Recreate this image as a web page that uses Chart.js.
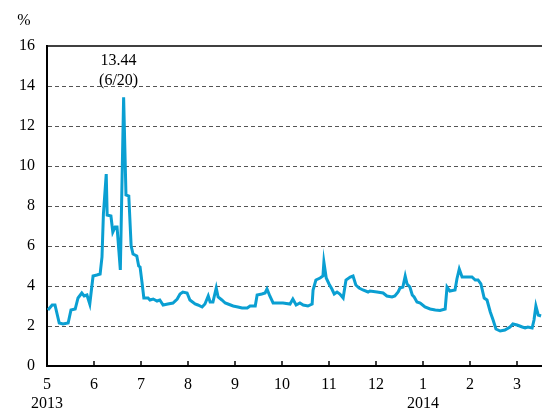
<!DOCTYPE html>
<html>
<head>
<meta charset="utf-8">
<script src="https://cdn.jsdelivr.net/npm/chart.js@4"></script>
<style>
  html, body { margin: 0; padding: 0; background: #fff; }
  #wrap { width: 542px; height: 410px; }
</style>
</head>
<body>
<div id="wrap"><canvas id="rateChart" width="542" height="410"></canvas></div>
<script>
// months elapsed since 1 May 2013 (0 = May, 10 = March 2014)
const monthPos = [
  0.02, 0.11, 0.17, 0.26, 0.34, 0.45, 0.51, 0.60, 0.66, 0.74, 0.79, 0.85, 0.91, 0.98,
  1.06, 1.13, 1.17, 1.20, 1.26, 1.28, 1.36, 1.40, 1.45, 1.49, 1.56, 1.63, 1.68, 1.74,
  1.79, 1.83, 1.91, 1.95, 1.98, 2.02, 2.06, 2.09, 2.15, 2.19, 2.26, 2.34, 2.40, 2.47,
  2.57, 2.68, 2.77, 2.83, 2.89, 2.98, 3.04, 3.15, 3.21, 3.30, 3.36, 3.43, 3.47, 3.53,
  3.60, 3.64, 3.72, 3.79, 3.85, 3.96, 4.06, 4.15, 4.26, 4.32, 4.43, 4.47, 4.57, 4.64,
  4.68, 4.74, 4.81, 4.89, 5.02, 5.17, 5.23, 5.30, 5.38, 5.45, 5.55, 5.64, 5.66, 5.72,
  5.81, 5.87, 5.89, 5.94, 6.00, 6.06, 6.11, 6.17, 6.23, 6.30, 6.36, 6.45, 6.51, 6.57,
  6.64, 6.72, 6.83, 6.87, 7.02, 7.15, 7.23, 7.34, 7.40, 7.47, 7.51, 7.57, 7.62, 7.66,
  7.72, 7.77, 7.81, 7.87, 7.94, 8.04, 8.15, 8.26, 8.36, 8.47, 8.51, 8.57, 8.68, 8.72,
  8.77, 8.83, 8.94, 9.04, 9.11, 9.17, 9.23, 9.30, 9.36, 9.43, 9.49, 9.55, 9.64, 9.74,
  9.85, 9.91, 10.00, 10.11, 10.17, 10.23, 10.32, 10.36, 10.40, 10.45, 10.51
];

// call rate, %
const rates = [
  2.80, 3.05, 3.05, 2.15, 2.10, 2.15, 2.80, 2.85, 3.40, 3.65, 3.50, 3.55, 3.10, 4.50,
  4.55, 4.60, 5.45, 7.60, 9.60, 7.55, 7.50, 6.70, 6.95, 6.95, 4.80, 13.44, 8.55, 8.50,
  6.00, 5.60, 5.50, 5.00, 4.95, 4.20, 3.40, 3.40, 3.40, 3.30, 3.35, 3.25, 3.30, 3.05,
  3.10, 3.15, 3.35, 3.60, 3.70, 3.65, 3.30, 3.10, 3.05, 2.95, 3.10, 3.50, 3.20, 3.20,
  3.90, 3.45, 3.30, 3.15, 3.10, 3.00, 2.95, 2.90, 2.90, 3.00, 3.00, 3.55, 3.60, 3.65,
  3.85, 3.50, 3.15, 3.15, 3.15, 3.10, 3.35, 3.05, 3.15, 3.05, 3.00, 3.10, 3.80, 4.30,
  4.40, 4.50, 5.20, 4.40, 4.10, 3.85, 3.60, 3.70, 3.60, 3.40, 4.30, 4.45, 4.50, 4.05,
  3.90, 3.80, 3.70, 3.75, 3.70, 3.65, 3.50, 3.45, 3.50, 3.70, 3.90, 3.95, 4.50, 4.10,
  3.95, 3.55, 3.45, 3.20, 3.15, 2.95, 2.85, 2.80, 2.78, 2.85, 3.95, 3.75, 3.80, 4.35,
  4.85, 4.45, 4.45, 4.45, 4.30, 4.30, 4.10, 3.40, 3.30, 2.70, 2.30, 1.85, 1.75, 1.80,
  1.95, 2.10, 2.05, 1.95, 1.90, 1.95, 1.90, 2.30, 3.00, 2.55, 2.50
];

const monthLabels = ['5', '6', '7', '8', '9', '10', '11', '12', '1', '2', '3'];
const yearLabels = { 0: '2013', 8: '2014' };
const yTicks = [0, 2, 4, 6, 8, 10, 12, 14, 16];

const peakValue = 13.44;
const peakDate = '6/20';

const FONT = 'Liberation Serif, Times New Roman, serif';

const peakIdx = rates.indexOf(peakValue);

// solid frame line at the top plus inward month ticks and the text notes
const extras = {
  id: 'extras',
  afterDraw(chart) {
    const { ctx, chartArea, scales } = chart;
    const x = scales.x, y = scales.y;
    ctx.save();
    ctx.strokeStyle = '#000';
    ctx.lineWidth = 1.5;
    ctx.beginPath();
    ctx.moveTo(chartArea.left, y.getPixelForValue(16));
    ctx.lineTo(chartArea.right, y.getPixelForValue(16));
    ctx.stroke();

    ctx.lineWidth = 1.5;
    monthLabels.forEach((m, i) => {
      const px = Math.round(x.getPixelForValue(i));
      if (i === 0) return;
      ctx.beginPath();
      ctx.moveTo(px, chartArea.bottom);
      ctx.lineTo(px, chartArea.bottom - 5);
      ctx.stroke();
    });

    ctx.fillStyle = '#000';
    ctx.font = '16px ' + FONT;
    ctx.textAlign = 'center';
    ctx.textBaseline = 'middle';
    ctx.fillText('%', 24, 21);
    const px = x.getPixelForValue(monthPos[peakIdx]) - 5;
    ctx.fillText(peakValue.toFixed(2), px, y.getPixelForValue(15.25));
    ctx.fillText('(' + peakDate + ')', px, y.getPixelForValue(14.25));
    ctx.restore();
  }
};

const ctx = document.getElementById('rateChart').getContext('2d');
new Chart(ctx, {
  type: 'line',
  data: {
    datasets: [{
      data: monthPos.map((m, i) => ({ x: m, y: rates[i] })),
      borderColor: '#0a9fd2',
      borderWidth: 3,
      pointRadius: 0,
      tension: 0,
      fill: false
    }]
  },
  options: {
    responsive: false,
    animation: false,
    layout: { padding: { top: 46, right: 0, left: 0, bottom: 0 } },
    plugins: { legend: { display: false }, tooltip: { enabled: false } },
    scales: {
      x: {
        type: 'linear',
        min: 0,
        max: 10.53,
        afterFit: s => { s.height = 44; },
        afterBuildTicks: s => { s.ticks = monthLabels.map((m, i) => ({ value: i })); },
        grid: { drawOnChartArea: false, drawTicks: false },
        border: { color: '#000', width: 2 },
        ticks: {
          padding: 9,
          color: '#000',
          font: { family: FONT, size: 16 },
          maxRotation: 0,
          autoSkip: false,
          callback: (v) => yearLabels[v] ? [monthLabels[v], yearLabels[v]] : monthLabels[v]
        }
      },
      y: {
        min: 0,
        max: 16,
        afterFit: s => { s.width = 47; },
        afterBuildTicks: s => { s.ticks = yTicks.map(v => ({ value: v })); },
        grid: {
          drawTicks: false,
          color: c => (c.tick.value === 0 || c.tick.value === 16) ? 'rgba(0,0,0,0)' : '#555',
          lineWidth: 1
        },
        border: { color: '#000', width: 2, dash: [4, 3] },
        ticks: {
          padding: 12,
          color: '#000',
          font: { family: FONT, size: 16 }
        }
      }
    }
  },
  plugins: [extras]
});
</script>
</body>
</html>
